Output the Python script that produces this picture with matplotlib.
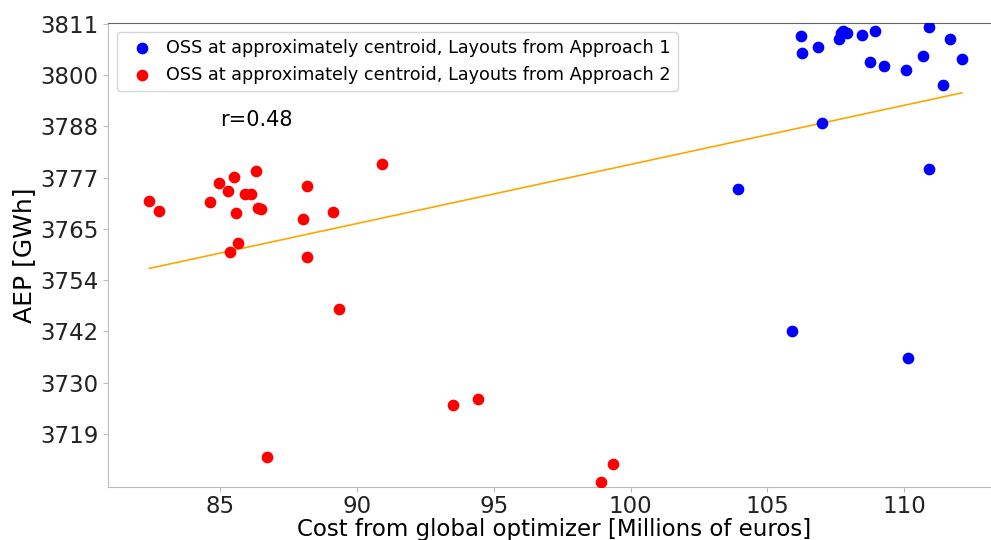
import numpy as np
import matplotlib
matplotlib.use("Agg")
import matplotlib.pyplot as plt

# Layouts from Approach 1 (blue)
cost_a1 = [106.23, 106.26, 106.86, 107.63, 107.69, 107.77, 107.90, 108.47, 108.92,
           108.76, 109.27, 110.05, 110.67, 110.91, 111.67, 112.11, 111.42, 107.00,
           103.91, 110.91, 105.89, 110.12]
aep_a1 = [3808.2, 3804.4, 3805.8, 3807.6, 3808.9, 3809.5, 3808.9, 3808.5, 3809.3,
          3802.5, 3801.6, 3800.7, 3803.8, 3810.2, 3807.6, 3803.1, 3797.2, 3788.8,
          3774.0, 3778.5, 3742.1, 3736.0]

# Layouts from Approach 2 (red)
cost_a2 = [82.41, 82.77, 84.64, 84.97, 85.28, 85.52, 85.56, 85.91, 86.12, 86.31,
           86.40, 86.50, 85.66, 85.36, 88.19, 88.02, 88.18, 89.12, 90.90, 86.70,
           89.34, 93.50, 94.43, 98.93, 99.36]
aep_a2 = [3771.2, 3769.0, 3771.0, 3775.3, 3773.6, 3776.7, 3768.5, 3772.9, 3772.9, 3778.1,
          3769.6, 3769.5, 3761.9, 3759.8, 3774.7, 3767.2, 3758.8, 3768.9, 3779.5, 3713.8,
          3747.1, 3725.5, 3726.9, 3708.2, 3712.3]

x_ticks = [85, 90, 95, 100, 105, 110]
y_tick_labels = ['3719', '3730', '3742', '3754', '3765', '3777', '3788', '3800', '3811']
r_text = 'r=0.48'

fig = plt.figure(figsize=(9.91, 5.4), dpi=100)
W, H = 991, 540
ax = fig.add_axes([108 / W, (H - 487) / H, (1000 - 108) / W, (487 - 23) / H])

ax.scatter(cost_a1, aep_a1, color='blue', s=55, zorder=3,
           label='OSS at approximately centroid, Layouts from Approach 1')
ax.scatter(cost_a2, aep_a2, color='red', s=55, zorder=3,
           label='OSS at approximately centroid, Layouts from Approach 2')

all_x = np.array(cost_a1 + cost_a2)
all_y = np.array(aep_a1 + aep_a2)
m, b = np.polyfit(all_x, all_y, 1)
xs = np.array([all_x.min(), all_x.max()])
ax.plot(xs, m * xs + b, color='orange', lw=1.2, zorder=2)

ax.text(85, 3788, r_text, fontsize=15)

ax.set_xlim(80.9, 113.5)
ax.set_ylim(3707.1, 3811.2)
ax.set_xticks(x_ticks)
ax.set_yticks(np.linspace(3719, 3811, len(y_tick_labels)))
ax.set_yticklabels(y_tick_labels)
ax.tick_params(labelsize=16.5, colors='#222222')
ax.tick_params(axis='both', color='#bbbbbb')
ax.tick_params(axis='x', pad=2.5)
for s in ['left', 'bottom']:
    ax.spines[s].set_color('#bbbbbb')
ax.spines['right'].set_visible(False)
ax.spines['top'].set_color('#666666')

ax.set_xlabel('Cost from global optimizer [Millions of euros]', fontsize=16.5, labelpad=0)
ax.set_ylabel('AEP [GWh]', fontsize=18, labelpad=3)

ax.legend(loc='upper left', fontsize=12.7, handletextpad=0.4, borderaxespad=0.5)

fig.savefig('out.png', dpi=100)
